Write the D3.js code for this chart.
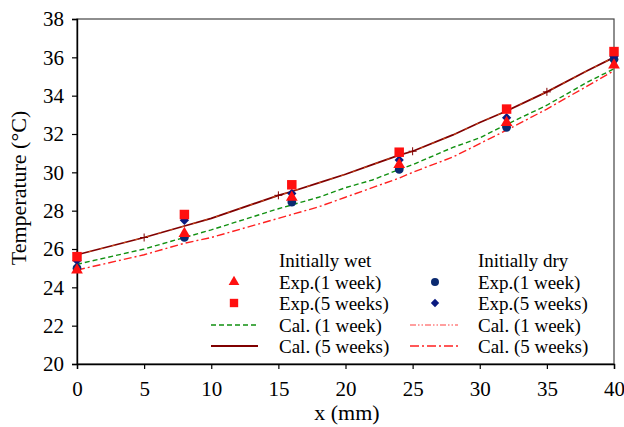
<!DOCTYPE html>
<html><head><meta charset="utf-8">
<script src="https://cdn.jsdelivr.net/npm/d3@7"></script>
<style>body{margin:0;background:#fff}svg{display:block}</style>
</head><body><svg id="c" width="624" height="427"></svg>
<script>
const xExp = [0, 8, 16, 24, 32, 40];
const wet1Exp = [24.9, 26.8, 28.7, 30.4, 32.6, 35.6];
const wet5Exp = [25.6, 27.8, 29.35, 31.05, 33.3, 36.3];
const dry1Exp = [25.0, 26.6, 28.45, 30.15, 32.35, 35.9];
const dry5Exp = [25.4, 27.5, 28.9, 30.65, 32.85, 36.05];

const xCal = [0, 5, 8, 10, 15, 16, 18, 20, 22, 24, 25, 28, 30, 32, 35, 38, 40];
const wet1Cal = [25.2, 26.0, 26.6, 27.0, 28.1, 28.3, 28.7, 29.2, 29.6, 30.15, 30.4, 31.3, 31.8, 32.5, 33.5, 34.7, 35.4];
const wet5Cal = [25.7, 26.6, 27.2, 27.6, 28.8, 29.0, 29.45, 29.9, 30.4, 30.9, 31.1, 31.95, 32.6, 33.2, 34.2, 35.3, 36.0];
const dry1Cal = [25.7, 26.6, 27.2, 27.6, 28.8, 29.0, 29.45, 29.9, 30.4, 30.9, 31.1, 31.95, 32.6, 33.2, 34.2, 35.3, 36.0];
const dry5Cal = [24.9, 25.7, 26.3, 26.6, 27.6, 27.8, 28.2, 28.7, 29.2, 29.7, 30.0, 30.8, 31.5, 32.2, 33.3, 34.5, 35.3];
const plusX = [0, 5, 15, 25, 35];
const plusY = [25.7, 26.6, 28.8, 31.1, 34.2];

const xTicks = [0, 5, 10, 15, 20, 25, 30, 35, 40];
const yTicks = [20, 22, 24, 26, 28, 30, 32, 34, 36, 38];

const FONT = "Liberation Serif";
const svg = d3.select("#c");
const L = 77, R = 614, T = 19, B = 364;
const x = d3.scaleLinear().domain([0, 40]).range([L, R]);
const y = d3.scaleLinear().domain([20, 38]).range([B, T]);

svg.append("rect").attr("x", L).attr("y", T).attr("width", R - L).attr("height", B - T)
  .attr("fill", "none").attr("stroke", "#444").attr("stroke-width", 1.2);

const xa = svg.append("g").attr("transform", `translate(0,${B})`)
  .call(d3.axisBottom(x).tickValues(xTicks).tickSize(5).tickPadding(12).tickFormat(d3.format("d")));
const ya = svg.append("g").attr("transform", `translate(${L},0)`)
  .call(d3.axisLeft(y).tickValues(yTicks).tickSize(5).tickPadding(8).tickFormat(d3.format("d")));
[xa, ya].forEach(a => {
  a.attr("font-size", 21);
  a.select(".domain").attr("stroke", "#000").attr("stroke-width", 1.4);
  a.selectAll(".tick line").attr("stroke", "#000").attr("stroke-width", 1.2);
  a.selectAll("text").attr("fill", "#000");
});

svg.append("text").attr("x", 347).attr("y", 420).attr("text-anchor", "middle")
  .attr("font-size", 22).text("x (mm)");
svg.append("text").attr("transform", "translate(26,188) rotate(-90)").attr("text-anchor", "middle")
  .attr("font-size", 22).text("Temperature (°C)");

const line = d3.line().x(d => x(d[0])).y(d => y(d[1]));
const pairs = (xs, ys) => xs.map((v, i) => [v, ys[i]]);

svg.append("path").datum(pairs(xCal, dry5Cal)).attr("d", line).attr("fill", "none")
  .attr("stroke", "#ff2020").attr("stroke-width", 1.4).attr("stroke-dasharray", "8,3,2,3");
svg.append("path").datum(pairs(xCal, wet1Cal)).attr("d", line).attr("fill", "none")
  .attr("stroke", "#109010").attr("stroke-width", 1.4).attr("stroke-dasharray", "5,3");
svg.append("path").datum(pairs(xCal, wet5Cal)).attr("d", line).attr("fill", "none")
  .attr("stroke", "#800000").attr("stroke-width", 1.8);
svg.append("path").datum(pairs(xCal, dry1Cal)).attr("d", line).attr("fill", "none")
  .attr("stroke", "#f07020").attr("stroke-width", 0.9).attr("stroke-dasharray", "3,9").attr("opacity", 0.8);

svg.append("g").selectAll("path").data(pairs(plusX, plusY)).join("path")
  .attr("transform", d => `translate(${x(d[0])},${y(d[1])})`)
  .attr("d", "M-4,0H4M0,-4V4").attr("fill", "none").attr("stroke", "#800000").attr("stroke-width", 1);

const diamond = {draw(ctx, size) { const r = Math.sqrt(size) / 1.6; ctx.moveTo(0, -r); ctx.lineTo(r, 0); ctx.lineTo(0, r); ctx.lineTo(-r, 0); ctx.closePath(); }};

function pts(ys, type, size, color) {
  svg.append("g").selectAll("path").data(pairs(xExp, ys)).join("path")
    .attr("transform", d => `translate(${x(d[0])},${y(d[1])})`)
    .attr("d", d3.symbol(type, size)).attr("fill", color);
}
pts(dry1Exp, d3.symbolCircle, 60, "#0b2a70");
pts(dry5Exp, diamond, 55, "#0a1a80");
pts(wet5Exp, d3.symbolSquare, 90, "#ff1010");
pts(wet1Exp, d3.symbolTriangle, 60, "#ff1010");

// legend
const lg = svg.append("g").attr("font-size", 19);
const rowsY = [260, 282, 303, 325, 346];
const cols = [{tx: 279, sx: 234, l1: 211, l2: 258}, {tx: 478, sx: 435, l1: 410, l2: 458}];
const legendHead = ["Initially wet", "Initially dry"];
const legendLabels = ["Exp.(1 week)", "Exp.(5 weeks)", "Cal. (1 week)", "Cal. (5 weeks)"];
cols.forEach((c, ci) => {
  lg.append("text").attr("x", c.tx).attr("y", rowsY[0]).attr("dy", "0.35em").text(legendHead[ci]);
  legendLabels.forEach((t, i) => lg.append("text").attr("x", c.tx).attr("y", rowsY[i + 1]).attr("dy", "0.35em").text(t));
});
const sym = (cx, cy, type, size, color) => lg.append("path").attr("transform", `translate(${cx},${cy})`)
  .attr("d", d3.symbol(type, size)).attr("fill", color);
sym(cols[0].sx, rowsY[1], d3.symbolTriangle, 50, "#ff1010");
sym(cols[0].sx, rowsY[2], d3.symbolSquare, 70, "#ff1010");
sym(cols[1].sx, rowsY[1], d3.symbolCircle, 50, "#0b2a70");
sym(cols[1].sx, rowsY[2], diamond, 45, "#0a1a80");
const lseg = (c, cy, color, w, dash) => lg.append("line").attr("x1", c.l1).attr("x2", c.l2).attr("y1", cy).attr("y2", cy)
  .attr("stroke", color).attr("stroke-width", w).attr("stroke-dasharray", dash);
lseg(cols[0], rowsY[3], "#109010", 1.4, "5,3");
lseg(cols[0], rowsY[4], "#800000", 2, null);
lseg(cols[1], rowsY[3], "#ff4040", 1.2, "6,2,1.5,2,1.5,2");
lseg(cols[1], rowsY[4], "#ff2020", 1.4, "9,3,2,3");

svg.selectAll("text").style("font-family", FONT, "important");
</script></body></html>
